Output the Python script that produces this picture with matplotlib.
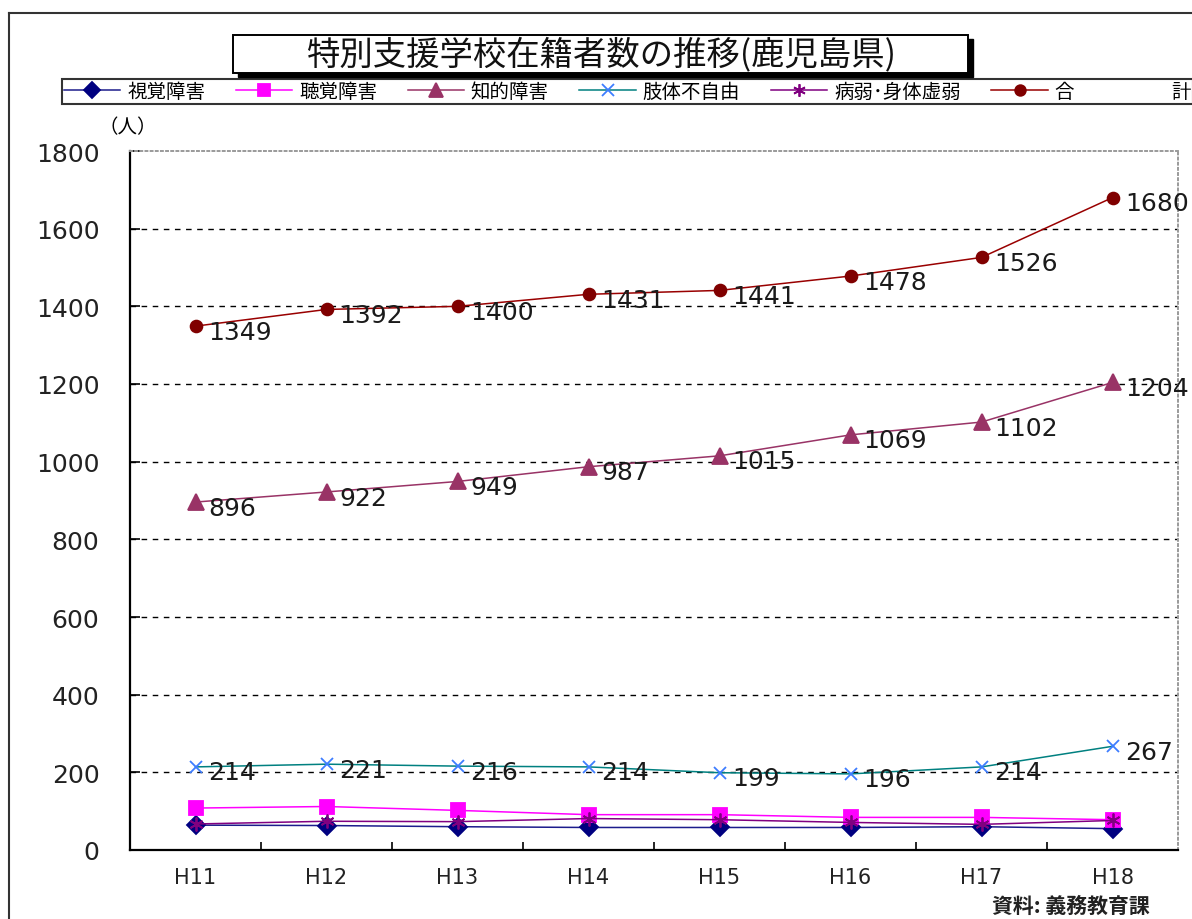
import numpy as np
import matplotlib
matplotlib.use('Agg')
import matplotlib.pyplot as plt
from matplotlib.patches import Rectangle
from matplotlib.lines import Line2D

plt.rcParams['font.family'] = ['DejaVu Sans', 'Noto Sans CJK JP']
JP = ['Noto Sans CJK JP', 'DejaVu Sans']

years = ['H11', 'H12', 'H13', 'H14', 'H15', 'H16', 'H17', 'H18']
visual = [64, 63, 60, 58, 58, 58, 60, 55]
hearing = [108, 112, 102, 91, 91, 84, 84, 78]
intellectual = [896, 922, 949, 987, 1015, 1069, 1102, 1204]
physical = [214, 221, 216, 214, 199, 196, 214, 267]
health = [67, 74, 73, 81, 78, 71, 66, 76]
total = [1349, 1392, 1400, 1431, 1441, 1478, 1526, 1680]

names = ['視覚障害', '聴覚障害', '知的障害', '肢体不自由', '病弱･身体虚弱', '合　　　　　計']
title = '特別支援学校在籍者数の推移(鹿児島県)'

W, H = 1192, 920
fig = plt.figure(figsize=(W / 100, H / 100), dpi=100)
ax = fig.add_axes([130 / W, 1 - 851 / H, (1178 - 130) / W, (851 - 152) / H])

x = np.arange(len(years))
# (values, line colour, marker, marker colour, marker size, labelled)
series = [
    (visual, '#1c1c8c', 'D', '#000080', 9, False),
    (hearing, '#ff00ff', 's', '#ff00ff', 9.5, False),
    (intellectual, '#993366', '^', '#993366', 11, True),
    (physical, '#008080', 'x', '#3d7dff', 9, True),
    (health, '#800080', (6, 2, 0), '#800080', 10, False),
    (total, '#990000', 'o', '#800000', 8.5, True),
]

handles = []
for vals, lc, mk, mc, ms, labelled in series:
    ln, = ax.plot(x, vals, color=lc, lw=1.1, marker=mk, ms=ms,
                  mfc=mc, mec=mc, mew=1.3, zorder=3)
    handles.append(ln)
    if labelled:
        for xi, v in zip(x, vals):
            ax.annotate(str(v), (xi, v), xytext=(9, -4), textcoords='offset points',
                        ha='left', va='center', fontsize=18, color='#1a1a1a',
                        zorder=4, annotation_clip=False)

ax.set_xlim(-0.5, len(years) - 0.5)
ax.set_ylim(0, 1800)
yt = np.arange(0, 1801, 200)
ax.set_yticks(yt)
for v in yt[1:-1]:
    ax.axhline(v, color='black', lw=1, ls=(0, (4, 4)), zorder=1)

ax.set_xticks(x)
ax.set_xticklabels(years)
ax.set_xticks(np.arange(0.5, len(years) - 1, 1), minor=True)
ax.tick_params(axis='x', which='major', length=0, pad=12, labelsize=15, labelcolor='#222222')
ax.tick_params(axis='x', which='minor', direction='in', length=6, width=1.2)
ax.tick_params(axis='y', direction='in', length=7, width=1.2, pad=22,
               labelsize=18, labelcolor='#222222')

for side in ('left', 'bottom'):
    ax.spines[side].set_color('black')
    ax.spines[side].set_linewidth(1.6)
for side in ('top', 'right'):
    ax.spines[side].set_color('#9a9a9a')
    ax.spines[side].set_linestyle(':')
    ax.spines[side].set_linewidth(1.4)

# title box with drop shadow
fig.patches.append(Rectangle((238 / W, 1 - 78 / H), 735 / W, 38 / H,
                             transform=fig.transFigure, fc='black', ec='black', zorder=1))
fig.patches.append(Rectangle((233 / W, 1 - 74 / H), 735 / W, 38 / H,
                             transform=fig.transFigure, fc='white', ec='black', lw=1.4, zorder=2))
fig.text(601 / W, 1 - 55 / H, title, ha='center', va='center', fontsize=24,
         family=JP, color='#111111', zorder=3)

leg = fig.legend(handles, names, loc='lower left',
                 bbox_to_anchor=(62 / W, 1 - 105 / H, (1193 - 62) / W, 22 / H),
                 mode='expand', ncol=6, prop={'family': JP, 'size': 14},
                 handlelength=2.9, handletextpad=0.35, columnspacing=0.4,
                 borderpad=0.1, borderaxespad=0, fancybox=False, frameon=True)
leg.get_frame().set_edgecolor('black')
leg.get_frame().set_linewidth(1.5)
for h in leg.legend_handles:
    h.set_markersize(h.get_markersize() * 0.9)

fig.text(98 / W, 1 - 128 / H, '（人）', ha='left', va='center', fontsize=14, family=JP)
fig.text(1150 / W, 1 - 906 / H, '資料: 義務教育課', ha='right', va='center',
         fontsize=15, family=JP, fontweight='bold', color='#222222')

# outer chart frame
fig.add_artist(Line2D([9 / W, 9 / W], [0, 1 - 14 / H], transform=fig.transFigure,
                      color='#333333', lw=1.5))
fig.add_artist(Line2D([9 / W, 1], [1 - 14 / H, 1 - 14 / H], transform=fig.transFigure,
                      color='#333333', lw=1.5))

fig.savefig('out.png', dpi=100)
